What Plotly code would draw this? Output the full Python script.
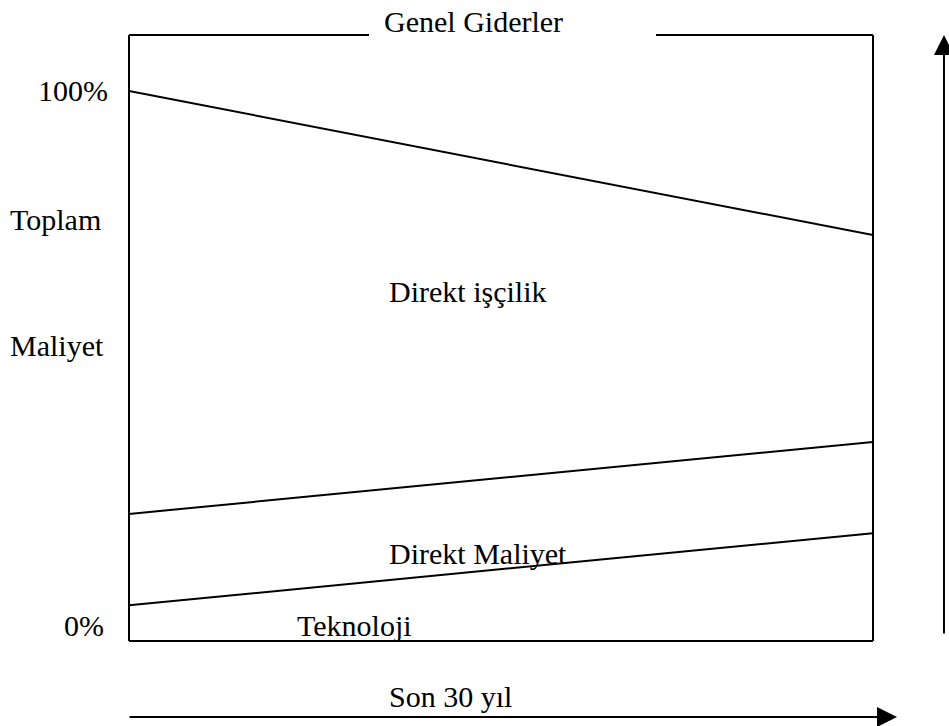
import plotly.graph_objects as go

# ---- data (percent of total cost over the last 30 years) ----
years = [0, 30]
genel_giderler_boundary = [100.0, 73.8]   # line between Genel Giderler and Direkt işçilik
iscilik_boundary = [23.1, 36.2]           # line between Direkt işçilik and Direkt Maliyet
teknoloji_boundary = [6.5, 19.6]          # line between Direkt Maliyet and Teknoloji

y_tick_labels = ["100%", "0%"]
region_labels = ["Direkt işçilik", "Direkt Maliyet", "Teknoloji"]
title_text = "Genel Giderler"
axis_titles = ["Toplam", "Maliyet", "Son 30 yıl"]

FONT = dict(family="Liberation Serif, Times New Roman, serif", size=30, color="black")
LINE = dict(color="black", width=2)

fig = go.Figure()
for ys in (genel_giderler_boundary, iscilik_boundary, teknoloji_boundary):
    fig.add_trace(go.Scatter(x=years, y=ys, mode="lines", line=LINE,
                             hoverinfo="skip", showlegend=False, cliponaxis=False))

# frame (with a gap in the top edge for the title)
for x0, y0, x1, y1 in [(0, 0, 0, 1), (1, 0, 1, 1), (0, 0, 1, 0),
                       (0, 1, 0.3226, 1), (0.7083, 1, 1, 1)]:
    fig.add_shape(type="line", xref="paper", yref="paper", x0=x0, y0=y0, x1=x1, y1=y1,
                  line=LINE)

ann = []
ann.append(dict(text=title_text, xref="paper", yref="paper", x=0.4637, y=1.023,
                xanchor="center", yanchor="middle", showarrow=False, font=FONT))
# y labels
ann.append(dict(text=y_tick_labels[0], xref="paper", yref="y", x=-0.025, y=100,
                xanchor="right", yanchor="middle", showarrow=False, font=FONT))
ann.append(dict(text=y_tick_labels[1], xref="paper", yref="y", x=-0.031, y=2.9,
                xanchor="right", yanchor="middle", showarrow=False, font=FONT))
ann.append(dict(text=axis_titles[0], xref="paper", yref="paper", x=-0.162, y=0.696,
                xanchor="left", yanchor="middle", showarrow=False, font=FONT))
ann.append(dict(text=axis_titles[1], xref="paper", yref="paper", x=-0.162, y=0.488,
                xanchor="left", yanchor="middle", showarrow=False, font=FONT))
# region labels
ann.append(dict(text=region_labels[0], xref="x", yref="y", x=10.4, y=63.5,
                xanchor="left", yanchor="middle", showarrow=False, font=FONT))
ann.append(dict(text=region_labels[1], xref="x", yref="y", x=10.4, y=16.0,
                xanchor="left", yanchor="middle", showarrow=False, font=FONT))
ann.append(dict(text=region_labels[2], xref="x", yref="y", x=6.69, y=2.9,
                xanchor="left", yanchor="middle", showarrow=False, font=FONT))
# x title
ann.append(dict(text=axis_titles[2], xref="paper", yref="paper", x=0.347, y=-0.092,
                xanchor="left", yanchor="middle", showarrow=False, font=FONT))
# arrows
ann.append(dict(text="", xref="paper", yref="paper", x=1.0954, y=1.0, ax=0, ay=600,
                showarrow=True, arrowhead=2, arrowsize=2, arrowwidth=2,
                arrowcolor="black", standoff=0))
ann.append(dict(text="", xref="paper", yref="paper", x=1.0323, y=-0.1254, ax=-769, ay=0,
                showarrow=True, arrowhead=2, arrowsize=2, arrowwidth=2,
                arrowcolor="black", standoff=0))

fig.update_layout(
    width=949, height=726,
    margin=dict(l=129, r=76, t=35, b=85),
    paper_bgcolor="white", plot_bgcolor="white",
    xaxis=dict(range=[0, 30], visible=False, fixedrange=True),
    yaxis=dict(range=[0, 110.18], visible=False, fixedrange=True),
    annotations=ann,
    showlegend=False,
)

fig.write_html(
    "out.html",
    config={"displayModeBar": False, "staticPlot": True},
    post_script="document.body.style.margin='0';document.body.style.overflow='hidden';",
)
